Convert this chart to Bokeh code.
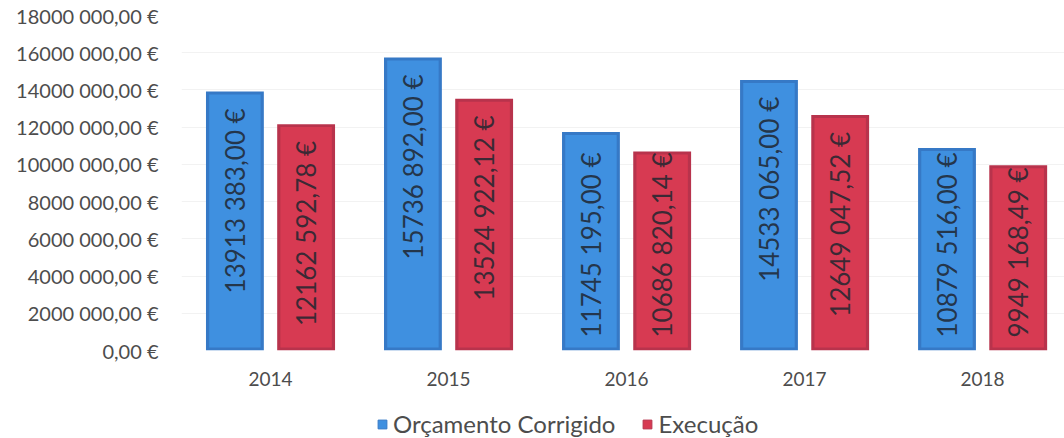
import numpy as np
from bokeh.plotting import figure
from bokeh.layouts import column
from bokeh.models import ColumnDataSource, FixedTicker, Legend, LegendItem, Range1d
from bokeh.core.properties import value
from bokeh.embed import file_html
from bokeh.resources import INLINE

# ---------------- data ----------------
years = ["2014", "2015", "2016", "2017", "2018"]
orcamento = [13913383.00, 15736892.00, 11745195.00, 14533065.00, 10879516.00]
execucao = [12162592.78, 13524922.12, 10686820.14, 12649047.52, 9949168.49]
orcamento_labels = ["13913 383,00 €", "15736 892,00 €", "11745 195,00 €",
                    "14533 065,00 €", "10879 516,00 €"]
execucao_labels = ["12162 592,78 €", "13524 922,12 €", "10686 820,14 €",
                   "12649 047,52 €", "9949 168,49 €"]
y_ticks = [0, 2000000, 4000000, 6000000, 8000000, 10000000,
           12000000, 14000000, 16000000, 18000000]
y_tick_labels = ["0,00 €", "2000 000,00 €", "4000 000,00 €", "6000 000,00 €",
                 "8000 000,00 €", "10000 000,00 €", "12000 000,00 €",
                 "14000 000,00 €", "16000 000,00 €", "18000 000,00 €"]
series_names = ["Orçamento Corrigido", "Execução"]

# ---------------- style ----------------
FONT = "Lato"
AXIS_COLOR = "#4d4d4d"
BLUE_OUT, BLUE_IN = "#3679c6", "#3f90e0"
RED_OUT, RED_IN = "#b8334c", "#d73a52"
OFFSET = 0.2
BAR_W = 0.325
BEVEL_X = 0.018
BEVEL_Y = 0.16e6
PAD_TOP = 0.9e6
PAD_BASE = 0.7e6
FIT = 12.0e6

x_idx = list(range(len(years)))

p = figure(width=1064, height=400, output_backend="svg", toolbar_location=None,
           x_range=Range1d(-0.5, 4.46), y_range=Range1d(0, 18e6),
           min_border_left=181, min_border_right=0, min_border_top=15,
           min_border_bottom=50)
p.outline_line_color = None
p.background_fill_color = "white"
p.border_fill_color = "white"

# y axis
p.yaxis.ticker = FixedTicker(ticks=y_ticks)
p.yaxis.major_label_overrides = {t: l for t, l in zip(y_ticks, y_tick_labels)}
p.yaxis.axis_line_color = None
p.yaxis.major_tick_line_color = None
p.yaxis.minor_tick_line_color = None
p.yaxis.major_label_standoff = 17
p.yaxis.major_label_text_font = FONT
p.yaxis.major_label_text_font_size = "20px"
p.yaxis.major_label_text_color = AXIS_COLOR

# x axis
p.xaxis.ticker = FixedTicker(ticks=x_idx)
p.xaxis.major_label_overrides = {i: y for i, y in zip(x_idx, years)}
p.xaxis.axis_line_color = None
p.xaxis.major_tick_line_color = None
p.xaxis.minor_tick_line_color = None
p.xaxis.major_label_standoff = 15
p.xaxis.major_label_text_font = FONT
p.xaxis.major_label_text_font_size = "19px"
p.xaxis.major_label_text_color = AXIS_COLOR

p.xgrid.grid_line_color = None
p.ygrid.grid_line_color = "#f2f2f2"

for vals, labels, off, c_out, c_in in [
        (orcamento, orcamento_labels, -OFFSET, BLUE_OUT, BLUE_IN),
        (execucao, execucao_labels, OFFSET, RED_OUT, RED_IN)]:
    xs = [i + off for i in x_idx]
    src = ColumnDataSource(dict(x=xs, top=list(vals),
                                top_in=[v - BEVEL_Y for v in vals]))
    p.vbar(x="x", top="top", bottom=0, width=BAR_W, source=src,
           fill_color=c_out, line_color=None)
    p.vbar(x="x", top="top_in", bottom=BEVEL_Y, width=BAR_W - 2 * BEVEL_X,
           source=src, fill_color=c_in, line_color=None)
    tall = [k for k, v in enumerate(vals) if v >= FIT]
    short = [k for k, v in enumerate(vals) if v < FIT]
    p.text(x=[xs[k] for k in tall], y=[vals[k] - PAD_TOP for k in tall],
           text=[labels[k] for k in tall], angle=np.pi / 2,
           text_align="right", text_baseline="middle", text_font=value(FONT),
           text_font_size="26px", text_color="#1f2630", text_alpha=0.85)
    p.text(x=[xs[k] for k in short], y=[PAD_BASE for k in short],
           text=[labels[k] for k in short], angle=np.pi / 2,
           text_align="left", text_baseline="middle", text_font=value(FONT),
           text_font_size="26px", text_color="#1f2630", text_alpha=0.85)

# ---------------- legend strip ----------------
lg = figure(width=1064, height=38, output_backend="svg", toolbar_location=None,
            x_axis_type=None, y_axis_type=None,
            x_range=Range1d(0, 1), y_range=Range1d(0, 1),
            min_border=0)
lg.outline_line_color = None
lg.xgrid.grid_line_color = None
lg.ygrid.grid_line_color = None
# swatch renderers kept outside the visible range of the strip
r_blue = lg.scatter(x=[5], y=[5], marker="square", size=9,
                    fill_color=BLUE_IN, line_color=BLUE_OUT)
r_red = lg.scatter(x=[5], y=[5], marker="square", size=9,
                   fill_color=RED_IN, line_color=RED_OUT)
legend = Legend(items=[LegendItem(label=series_names[0], renderers=[r_blue]),
                       LegendItem(label=series_names[1], renderers=[r_red])],
                orientation="horizontal", location=(190, 0),
                label_text_font=FONT, label_text_font_size="24px",
                label_text_color=AXIS_COLOR, glyph_width=22, glyph_height=22,
                spacing=21, label_standoff=0, padding=2, margin=0,
                border_line_color=None, background_fill_alpha=0)
lg.add_layout(legend)

layout = column(p, lg, spacing=0)
open("out.html", "w").write(file_html(layout, INLINE))
